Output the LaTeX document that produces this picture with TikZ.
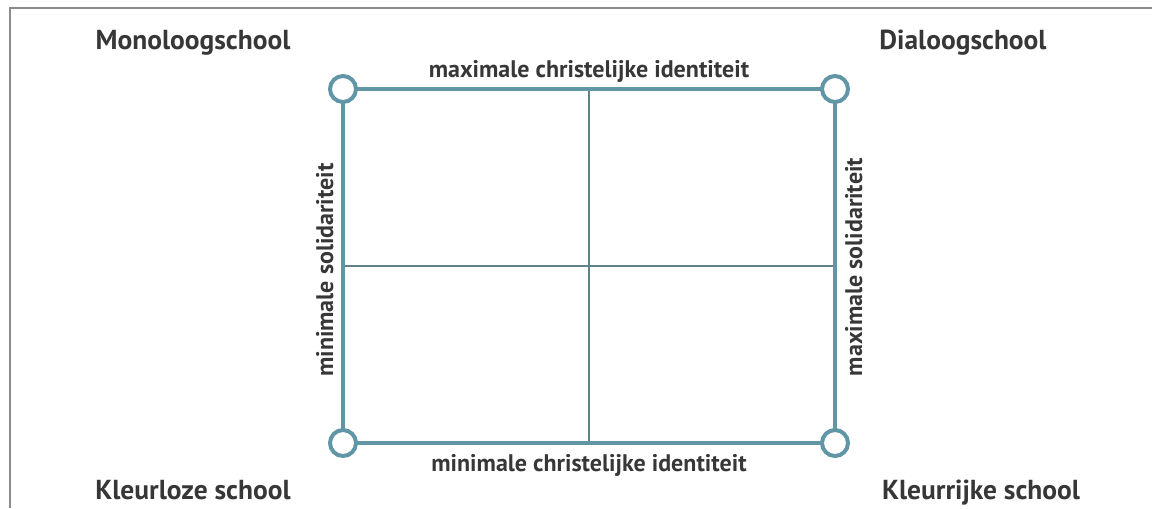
\documentclass[tikz,border=0pt]{standalone}
\usepackage{fontspec}
\setmainfont{PT Sans}
\usetikzlibrary{calc}
\definecolor{axisblue}{RGB}{96,150,166}
\definecolor{crossgray}{RGB}{96,128,138}
\definecolor{textgray}{RGB}{55,55,55}
\definecolor{framegray}{RGB}{140,140,140}

\begin{document}
\begin{tikzpicture}[
    x=0.75pt, y=-0.75pt,
  every node/.style = {text=textgray, font=\bfseries},
  corner/.style = {shape=circle, draw=axisblue, line width=3pt,
    fill=white, inner sep=0pt, minimum size=19.5pt},
  school/.style = {anchor=base, font=\bfseries\fontsize{20.6}{24}\selectfont},
  axislabel/.style = {anchor=base, font=\bfseries\fontsize{18}{22}\selectfont},
  edge/.style = {draw=axisblue, line width=2.6pt},
  cross/.style = {draw=crossgray, line width=1.4pt}]
    \useasboundingbox (0,0) rectangle (1158,508);
    % frame
    \draw[framegray, line width=1pt] (10,508) -- (10,8) -- (1152,8);
    % corners
    \coordinate (tl) at (343,89);
    \coordinate (tr) at (835,89);
    \coordinate (bl) at (343,443);
    \coordinate (br) at (835,443);
    \coordinate (tm) at (589,89);
    \coordinate (bm) at (589,443);
    \coordinate (lm) at (343,266);
    \coordinate (rm) at (835,266);
    \draw[cross] (tm) -- (bm);
    \draw[cross] (lm) -- (rm);
    \draw[edge] (tl) -- (tr) -- (br) -- (bl) -- cycle;
    \node[corner] (ctl) at (tl) {};
    \node[corner] (ctr) at (tr) {};
    \node[corner] (cbl) at (bl) {};
    \node[corner] (cbr) at (br) {};
    % labels
    \node[school] (mono) at (193,49) {Monoloogschool};
    \node[school] (dia) at (963,49) {Dialoogschool};
    \node[school] (kloos) at (193,499) {Kleurloze school};
    \node[school] (krijk) at (981,499) {Kleurrijke school};
    \node[axislabel] (maxci) at (589,77) {maximale christelijke identiteit};
    \node[axislabel] (minci) at (589,471) {minimale christelijke identiteit};
    \node[axislabel, rotate=90] (minsol) at (333,270) {minimale solidariteit};
    \node[axislabel, rotate=90] (maxsol) at (862,267) {maximale solidariteit};
\end{tikzpicture}
\end{document}
